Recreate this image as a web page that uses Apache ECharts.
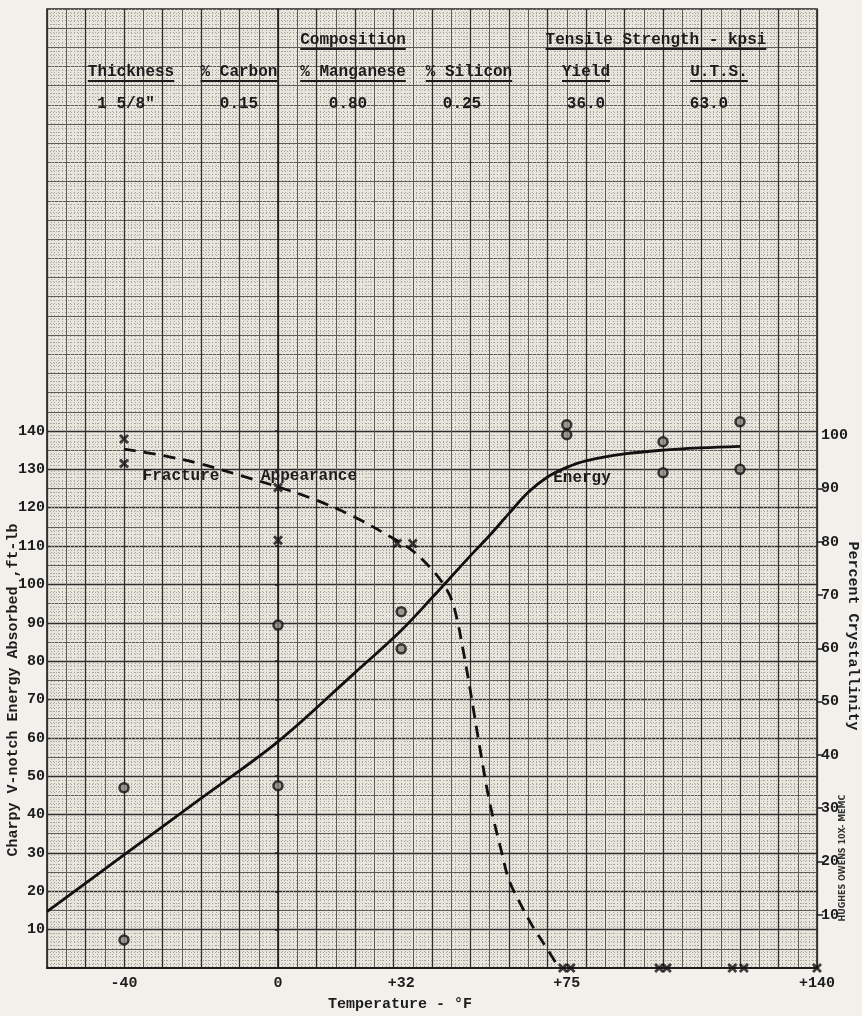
<!DOCTYPE html>
<html><head><meta charset="utf-8">
<script src="https://cdn.jsdelivr.net/npm/echarts@6/dist/echarts.min.js"></script>
<style>html,body{margin:0;padding:0;background:#f2f0eb;}#c{width:862px;height:1016px;}</style>
</head><body><div id="c"></div>
<script>
// ---- data ----
const tempTickLabels = [-40, 0, 32, 75, 140];
const energyTickLabels = [10, 20, 30, 40, 50, 60, 70, 80, 90, 100, 110, 120, 130, 140];
const crystTickLabels = [10, 20, 30, 40, 50, 60, 70, 80, 90, 100];

// Energy curve (solid)
const energyCurveTemp = [-60, -40, -20, 0, 20, 32, 40, 50, 55, 60, 65, 70, 75, 80, 90, 100, 110, 120];
const energyCurveVal  = [14.7, 29.5, 44.2, 59, 77, 88, 96.5, 107.5, 112.8, 118.5, 124, 128, 130.5, 132.2, 134, 135, 135.6, 136];

// Fracture appearance curve (dashed), percent crystallinity
const fracCurveTemp = [-40, -30, -20, -10, 0, 10, 20, 30, 35, 40, 43, 45, 46.5, 48, 49.5, 51, 52.5, 55, 58, 60, 63, 66, 70, 73];
const fracCurveVal  = [97.4, 96.2, 94.6, 92.5, 90.3, 87.8, 84.6, 80.6, 78.3, 74.8, 72, 69.3, 65.5, 60, 54, 47.5, 41, 31, 22, 16.5, 12, 8, 3.5, 0];

// Energy test points (circles)
const energyPtsTemp = [-40, -40, 0, 0, 32, 32, 75, 75, 100, 100, 120, 120];
const energyPtsVal  = [47, 7.3, 89.4, 47.5, 92.9, 83.2, 141.6, 139, 137.2, 129.1, 142.4, 130];

// Crystallinity test points (x marks)
const fracPtsTemp = [-40, -40, 0, 0, 31, 35, 74, 76, 99, 101, 118, 121, 140];
const fracPtsVal  = [99.3, 94.7, 90.2, 80.3, 79.7, 79.7, 0, 0, 0, 0, 0, 0, 0];

// Header table
const headerRow1 = ['Composition', 'Tensile Strength - kpsi'];
const headerRow2 = ['Thickness', '% Carbon', '% Manganese', '% Silicon', 'Yield', 'U.T.S.'];
const headerRow3 = ['1 5/8"', '0.15', '0.80', '0.25', '36.0', '63.0'];

// ---- layout / styling ----
const FONT = 'Liberation Mono';
const INK = '#1c1c1c';
const zip = (a, b) => a.map((v, i) => [v, b[i]]);

const row1X = [353, 656];
const row2X = [131, 239, 353, 469, 586, 719];
const row3X = [126, 239, 348, 462, 586, 709];
const HFS = 16;

const graphics = [];
function addText(text, x, y, opts) {
  opts = opts || {};
  graphics.push({
    type: 'text', x: x, y: y, rotation: opts.rotation || 0, z: 50,
    style: {
      text: text, x: 0, y: 0, align: 'center', verticalAlign: 'middle',
      font: 'bold ' + (opts.size || HFS) + 'px "' + (opts.family || FONT) + '"',
      fill: opts.color || INK
    }
  });
  if (opts.underline) {
    const w = text.length * 0.6 * (opts.size || HFS);
    graphics.push({
      type: 'line', z: 50,
      shape: { x1: x - w / 2, y1: y + 9, x2: x + w / 2, y2: y + 9 },
      style: { stroke: INK, lineWidth: 2 }
    });
  }
}
headerRow1.forEach((t, i) => addText(t, row1X[i], 40, { underline: true }));
headerRow2.forEach((t, i) => addText(t, row2X[i], 72, { underline: true }));
headerRow3.forEach((t, i) => addText(t, row3X[i], 104));
addText('Fracture', 181, 476);
addText('Appearance', 309, 476);
addText('Energy', 582, 478);
addText('Charpy V-notch Energy Absorbed ,ft-lb', 13, 690, { rotation: Math.PI / 2, size: 15 });
addText('Percent Crystallinity', 853, 636, { rotation: -Math.PI / 2, size: 15 });
addText('Temperature - \u00B0F', 400, 1004, { size: 15 });
addText('HUGHES OWENS 10X- MEMC', 843, 858, { rotation: Math.PI / 2, size: 8, family: 'DejaVu Sans', color: '#333' });

const medLine = { color: '#5c5b58', width: 1 };
const heavyLine = { color: '#2e2e2e', width: 1.3 };
const dotLine = { color: '#a8a59e', width: 1, type: [1, 2] };
const labelStyle = { fontFamily: FONT, fontWeight: 'bold', fontSize: 15, color: INK };

const xMark = 'path://M0,2L2,0L5,3L8,0L10,2L7,5L10,8L8,10L5,7L2,10L0,8L3,5Z';

const option = {
  backgroundColor: '#f2f0eb',
  animation: false,
  grid: { left: 47, right: 45, top: 9, bottom: 48, show: true, backgroundColor: '#e8e5dd', borderColor: '#222', borderWidth: 1.6 },
  xAxis: [
    { type: 'value', min: -60, max: 140, interval: 5, position: 'top',
      axisLine: { show: false }, axisTick: { show: false }, axisLabel: { show: false },
      splitLine: { show: true, lineStyle: medLine },
      minorTick: { show: false, splitNumber: 5 },
      minorSplitLine: { show: true, lineStyle: dotLine } },
    { type: 'value', min: -60, max: 140, interval: 10, position: 'bottom',
      axisLine: { show: true, lineStyle: { color: INK, width: 2 } }, axisTick: { show: false },
      axisLabel: Object.assign({ customValues: tempTickLabels, margin: 8,
        formatter: v => (v > 0 ? '+' + v : String(v)) }, labelStyle),
      splitLine: { show: true, lineStyle: heavyLine } }
  ],
  yAxis: [
    { type: 'value', min: 0, max: 250, interval: 5, position: 'left',
      axisLine: { show: false }, axisTick: { show: false }, axisLabel: { show: false },
      splitLine: { show: true, lineStyle: medLine },
      minorTick: { show: false, splitNumber: 5 },
      minorSplitLine: { show: true, lineStyle: dotLine } },
    { type: 'value', min: 0, max: 250, interval: 10, position: 'left',
      axisLine: { show: true, lineStyle: { color: INK, width: 1.6 } },
      axisTick: { show: true, length: 3, customValues: energyTickLabels, lineStyle: { color: INK, width: 1.5 } },
      axisLabel: Object.assign({ customValues: energyTickLabels, margin: 2 }, labelStyle),
      splitLine: { show: true, lineStyle: heavyLine } },
    { type: 'value', min: 0, max: 180, interval: 10, position: 'right',
      axisLine: { show: false }, splitLine: { show: false },
      axisTick: { show: true, length: 6, customValues: crystTickLabels.slice(0, 9), lineStyle: { color: INK, width: 1.5 } },
      axisLabel: Object.assign({ customValues: crystTickLabels, margin: 4 }, labelStyle) }
  ],
  graphic: graphics,
  series: [
    { type: 'line', name: 'Energy', xAxisIndex: 1, yAxisIndex: 1, data: zip(energyCurveTemp, energyCurveVal),
      smooth: 0.35, symbol: 'none', z: 10,
      lineStyle: { color: '#111', width: 2.8 } },
    { type: 'line', name: 'Fracture Appearance', xAxisIndex: 1, yAxisIndex: 2, data: zip(fracCurveTemp, fracCurveVal),
      smooth: 0.35, symbol: 'none', z: 10,
      lineStyle: { color: '#111', width: 2.8, type: [12, 8] } },
    { type: 'scatter', name: 'Energy points', xAxisIndex: 1, yAxisIndex: 1, data: zip(energyPtsTemp, energyPtsVal),
      symbol: 'circle', symbolSize: 9, clip: false, z: 12,
      itemStyle: { color: '#8a8780', borderColor: '#111', borderWidth: 2.5 } },
    { type: 'scatter', name: 'Crystallinity points', xAxisIndex: 1, yAxisIndex: 2, data: zip(fracPtsTemp, fracPtsVal),
      symbol: xMark, symbolSize: 10, clip: false, z: 12,
      itemStyle: { color: '#111' } }
  ]
};

const chart = echarts.init(document.getElementById('c'), null, { renderer: 'canvas' });
chart.setOption(option);
</script>
</body></html>
